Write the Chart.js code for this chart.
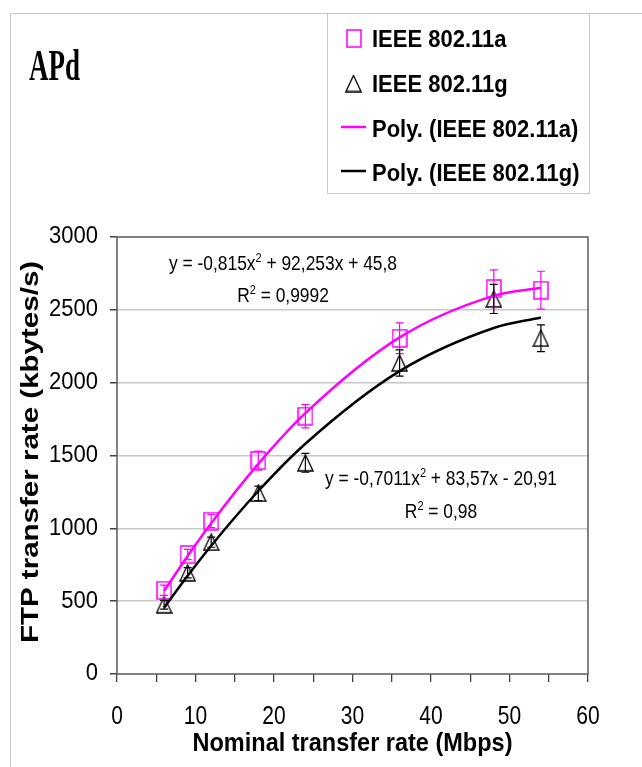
<!DOCTYPE html>
<html>
<head>
<meta charset="utf-8">
<title>APd – FTP transfer rate</title>
<script src="https://cdn.jsdelivr.net/npm/chart.js@4.4.1/dist/chart.umd.min.js"></script>
<style>
  html, body { margin: 0; padding: 0; background: #fff; }
  canvas { display: block; }
</style>
</head>
<body>
<canvas id="ftpChart" width="642" height="767"></canvas>
<script>
// Measured FTP throughput per nominal 802.11 rate (Mbps -> kbytes/s)
const RATES  = [6, 9, 12, 18, 24, 36, 48, 54];
const RATE_A = [575, 820, 1050, 1465, 1770, 2305, 2645, 2635];
const ERR_A  = [35, 35, 45, 65, 80, 105, 130, 130];
const RATE_G = [475, 695, 905, 1240, 1450, 2135, 2575, 2305];
const ERR_G  = [30, 35, 35, 50, 65, 90, 100, 92];

// 2nd order trendline coefficients [x^2, x, c], as printed on the chart
const POLY_A = [-0.815, 92.253, 45.8];
const POLY_G = [-0.7011, 83.57, -20.91];

const X_TICKS = [0, 10, 20, 30, 40, 50, 60];
const Y_TICKS = [0, 500, 1000, 1500, 2000, 2500, 3000];

const PINK = '#ff00ff';
const SANS = "'Liberation Sans', Arial, sans-serif";
const SERIF = "'Liberation Serif', 'Times New Roman', serif";

const poly = (c, x) => c[0] * x * x + c[1] * x + c[2];
const pts = (xs, ys) => xs.map((x, i) => ({ x, y: ys[i] }));

// hollow markers (slightly taller than wide)
function squareMarker(w, h, color) {
  const c = document.createElement('canvas');
  c.width = w + 2; c.height = h + 2;
  const g = c.getContext('2d');
  g.strokeStyle = color; g.lineWidth = 1.5;
  g.strokeRect(1, 1, w, h);
  return c;
}
function triangleMarker(w, h, color) {
  const c = document.createElement('canvas');
  c.width = w + 2; c.height = h + 2;
  const g = c.getContext('2d');
  g.strokeStyle = color; g.lineWidth = 1.3;
  g.beginPath();
  g.moveTo(1 + w / 2, 1); g.lineTo(1 + w, 1 + h); g.lineTo(1, 1 + h); g.closePath();
  g.stroke();
  return c;
}
const SQ = squareMarker(14, 17, PINK);
const TRI = triangleMarker(15, 16, '#000');

function text(ctx, s, x, y, font, align, base, sx, sy) {
  ctx.save();
  ctx.font = font;
  ctx.textAlign = align;
  ctx.textBaseline = base;
  ctx.translate(x, y);
  ctx.scale(sx, sy);
  ctx.fillText(s, 0, 0);
  ctx.restore();
}

// text with one superscript part, centred on cx
function richText(ctx, parts, cx, y) {
  ctx.save();
  ctx.fillStyle = '#000';
  ctx.textBaseline = 'alphabetic';
  ctx.textAlign = 'left';
  const main = '17.4px ' + SANS, sup = '11px ' + SANS;
  let w = 0;
  parts.forEach(p => { ctx.font = p.sup ? sup : main; w += ctx.measureText(p.t).width; });
  let x = cx - w / 2;
  parts.forEach(p => {
    ctx.font = p.sup ? sup : main;
    ctx.save();
    ctx.translate(x, p.sup ? y - 8 : y);
    ctx.scale(1, 1.12);
    ctx.fillText(p.t, 0, 0);
    ctx.restore();
    x += ctx.measureText(p.t).width;
  });
  ctx.restore();
}

const errorBars = {
  id: 'errorBars',
  afterDatasetsDraw(chart) {
    const { ctx, scales: { x, y } } = chart;
    const draw = (vals, errs, color) => {
      ctx.save();
      ctx.strokeStyle = color;
      ctx.lineWidth = 1.2;
      RATES.forEach((r, i) => {
        const px = x.getPixelForValue(r);
        const top = y.getPixelForValue(vals[i] + errs[i]);
        const bot = y.getPixelForValue(vals[i] - errs[i]);
        ctx.beginPath();
        ctx.moveTo(px, top); ctx.lineTo(px, bot);
        ctx.moveTo(px - 4, top); ctx.lineTo(px + 4, top);
        ctx.moveTo(px - 4, bot); ctx.lineTo(px + 4, bot);
        ctx.stroke();
      });
      ctx.restore();
    };
    draw(RATE_A, ERR_A, PINK);
    draw(RATE_G, ERR_G, '#000');
  }
};

const decorations = {
  id: 'decorations',
  beforeDatasetsDraw(chart) {
    const { ctx, chartArea: a } = chart;
    ctx.save();
    ctx.strokeStyle = '#5a5a5a';
    ctx.lineWidth = 1.5;
    ctx.strokeRect(a.left, a.top, a.right - a.left, a.bottom - a.top);
    ctx.restore();
  },
  afterDraw(chart) {
    const { ctx, scales: { x, y } } = chart;

    // outer frame
    ctx.save();
    ctx.strokeStyle = '#c8c8c8';
    ctx.lineWidth = 1;
    ctx.beginPath();
    ctx.moveTo(10.5, 767); ctx.lineTo(10.5, 13.5); ctx.lineTo(642, 13.5);
    ctx.stroke();
    // legend box
    ctx.strokeRect(327.5, 13.5, 262, 180);
    ctx.restore();

    ctx.fillStyle = '#000';

    // tick labels
    Y_TICKS.forEach(v => text(ctx, String(v), 98, y.getPixelForValue(v), '22px ' + SANS, 'right', 'middle', 1, 1.05));
    X_TICKS.forEach(v => text(ctx, String(v), x.getPixelForValue(v), 717, '21px ' + SANS, 'center', 'middle', 1, 1.25));

    // axis titles
    text(ctx, 'Nominal transfer rate (Mbps)', (x.left + x.right) / 2, 751, 'bold 23.5px ' + SANS, 'center', 'alphabetic', 1, 1.12);
    ctx.save();
    ctx.translate(38, 452);
    ctx.rotate(-Math.PI / 2);
    ctx.scale(1.23, 1);
    ctx.font = 'bold 24px ' + SANS;
    ctx.textAlign = 'center';
    ctx.textBaseline = 'alphabetic';
    ctx.fillText('FTP transfer rate (kbytes/s)', 0, 0);
    ctx.restore();

    // panel title
    text(ctx, 'APd', 29, 80, 'bold 45px ' + SERIF, 'left', 'alphabetic', 0.6, 1);

    // trendline equations
    richText(ctx, [{ t: 'y = -0,815x' }, { t: '2', sup: true }, { t: ' + 92,253x + 45,8' }], 283, 270);
    richText(ctx, [{ t: 'R' }, { t: '2', sup: true }, { t: ' = 0,9992' }], 283, 302);
    richText(ctx, [{ t: 'y = -0,7011x' }, { t: '2', sup: true }, { t: ' + 83,57x - 20,91' }], 441, 485);
    richText(ctx, [{ t: 'R' }, { t: '2', sup: true }, { t: ' = 0,98' }], 441, 518);

    // legend
    const legendFont = 'bold 22px ' + SANS;
    ctx.drawImage(SQ, 354 - SQ.width / 2, 38.5 - SQ.height / 2);
    ctx.drawImage(TRI, 353.5 - TRI.width / 2, 83.5 - TRI.height / 2);
    ctx.save();
    ctx.lineWidth = 2.5;
    ctx.strokeStyle = PINK;
    ctx.beginPath(); ctx.moveTo(341, 127); ctx.lineTo(366, 127); ctx.stroke();
    ctx.strokeStyle = '#000';
    ctx.beginPath(); ctx.moveTo(341, 171); ctx.lineTo(366, 171); ctx.stroke();
    ctx.restore();
    const labels = chart.data.datasets.map(d => d.label);
    const rows = [[labels[2], 47], [labels[3], 92], [labels[0], 137], [labels[1], 181]];
    rows.forEach(([s, by]) => text(ctx, s, 372, by, legendFont, 'left', 'alphabetic', 1, 1.12));
  }
};

new Chart(document.getElementById('ftpChart'), {
  type: 'scatter',
  data: {
    datasets: [
      {
        label: 'Poly. (IEEE 802.11a)',
        data: RATES.map(r => ({ x: r, y: poly(POLY_A, r) })),
        showLine: true,
        borderColor: PINK,
        borderWidth: 2.5,
        pointRadius: 0,
        tension: 0.4,
        cubicInterpolationMode: 'monotone'
      },
      {
        label: 'Poly. (IEEE 802.11g)',
        data: RATES.map(r => ({ x: r, y: poly(POLY_G, r) })),
        showLine: true,
        borderColor: '#000',
        borderWidth: 2.5,
        pointRadius: 0,
        tension: 0.4,
        cubicInterpolationMode: 'monotone'
      },
      {
        label: 'IEEE 802.11a',
        data: pts(RATES, RATE_A),
        pointStyle: SQ,
        showLine: false
      },
      {
        label: 'IEEE 802.11g',
        data: pts(RATES, RATE_G),
        pointStyle: TRI,
        showLine: false
      }
    ]
  },
  options: {
    responsive: false,
    animation: false,
    devicePixelRatio: 1,
    layout: { padding: { top: 237, right: 54, bottom: 0, left: 0 } },
    plugins: {
      legend: { display: false },
      tooltip: { enabled: false }
    },
    scales: {
      x: {
        type: 'linear',
        min: 0,
        max: 60,
        ticks: { stepSize: 5, display: false },
        grid: { drawOnChartArea: false, tickLength: 8, tickColor: '#404040', lineWidth: 1.3 },
        border: { display: false },
        afterFit(scale) { scale.height = 93; }
      },
      y: {
        min: 0,
        max: 3000,
        ticks: { stepSize: 500, display: false },
        grid: {
          color: ctx => (ctx.tick && (ctx.tick.value === 0 || ctx.tick.value === 3000)) ? 'rgba(0,0,0,0)' : '#c8c8c8',
          lineWidth: 1.5,
          tickLength: 7,
          tickColor: '#404040'
        },
        border: { display: false },
        afterFit(scale) { scale.width = 117; }
      }
    }
  },
  plugins: [errorBars, decorations]
});
</script>
</body>
</html>
